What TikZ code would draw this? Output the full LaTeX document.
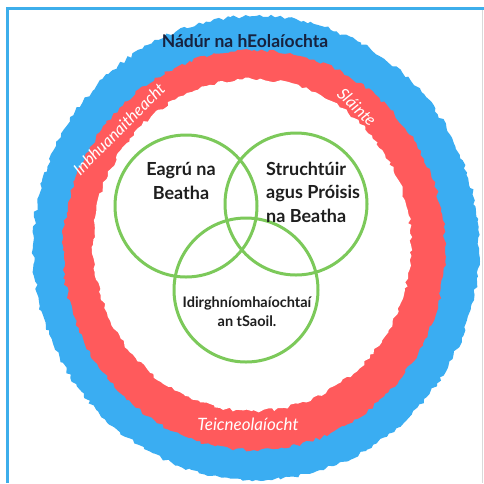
\documentclass[tikz,border=0pt]{standalone}
\usepackage{fontspec}
\setmainfont{Lato}
\usetikzlibrary{decorations.pathmorphing}
\definecolor{ringblue}{HTML}{3AADF2}
\definecolor{ringred}{HTML}{FF5A5C}
\definecolor{framblue}{HTML}{3DAEEB}
\definecolor{venngreen}{HTML}{7CC95A}
\definecolor{navy}{HTML}{17223F}
\definecolor{txt}{HTML}{1E1E1E}
\tikzset{
  rough/.style={decorate, decoration={random steps, segment length=4pt, amplitude=1.8pt}},
  venn/.style={circle, draw=venngreen, line width=3pt, inner sep=0pt},
  venntext/.style={font=\bfseries\fontsize{18}{23.5}\selectfont, text=txt, inner sep=0pt},
  ringtext/.style={font=\itshape\fontsize{16.5}{18}\selectfont, text=white, inner sep=0pt},
}
\begin{document}
\begin{tikzpicture}[x=1pt,y=-1pt]
\useasboundingbox (0,0) rectangle (484,483);
\fill[white] (0,0) rectangle (484,483);
% frame
\draw[framblue, line width=3pt] (7.5,483) -- (7.5,8.5) -- (484,8.5);
\draw[black!15, line width=0.8pt] (482,10) -- (482,483);
% rings
\fill[ringblue, rough] (256,248) ellipse [x radius=223, y radius=232];
\fill[ringred, rough] (254,250) ellipse [x radius=191, y radius=200];
\fill[white, rough] (252,245) ellipse [x radius=159, y radius=166];
% venn circles
\node[venn, minimum size=142pt] (c1) at (186,206) {};
\node[venn, minimum size=142pt] (c2) at (296,204) {};
\node[venn, minimum size=144pt] (c3) at (246,290) {};
% venn texts
\node[venntext, align=center] (t1) at (181,181) {Eagrú na\\Beatha};
\node[venntext, align=left, anchor=west] (t2) at (266,192) {Struchtúir\\agus Próisis\\na Beatha};
\node[venntext, align=center, font=\bfseries\fontsize{14.5}{19}\selectfont] (t3) at (247,312) {Idirghníomhaíochtaí\\an tSaoil.};
% ring texts
\node[font=\bfseries\fontsize{17.5}{20}\selectfont, text=navy, inner sep=0pt] (title) at (245,41) {Nádúr na hEolaíochta};
\node[ringtext, rotate=45] (l1) at (119,129) {Inbhuanaitheacht};
\node[ringtext, rotate=-44] (l2) at (357,107) {Sláinte};
\node[ringtext, font=\itshape\fontsize{17}{18}\selectfont] (l3) at (248,424) {Teicneolaíocht};
\end{tikzpicture}
\end{document}
